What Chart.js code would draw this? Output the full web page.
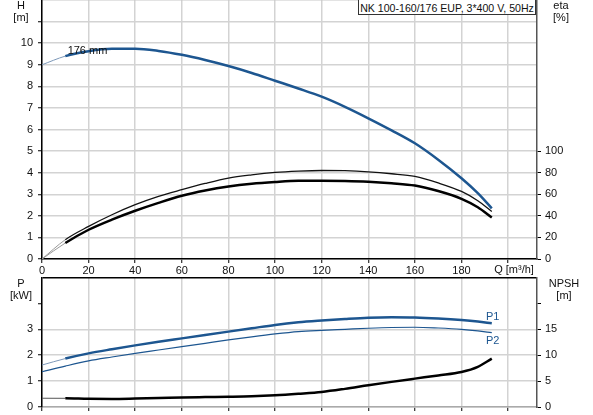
<!DOCTYPE html>
<html>
<head>
<meta charset="utf-8">
<script src="https://cdn.jsdelivr.net/npm/chart.js@4/dist/chart.umd.min.js"></script>
<style>
  html, body { margin: 0; padding: 0; background: #fff; }
  body { width: 593px; height: 415px; position: relative; overflow: hidden; font-family: "Liberation Sans", Arial, sans-serif; }
  canvas { position: absolute; left: 0; }
  #c1 { top: 0; }
  #c2 { top: 270px; }
  .lbl { position: absolute; font-size: 11px; color: #111; line-height: 12px; transform: translate(-50%, -50%); white-space: nowrap; }
  #title { position: absolute; left: 358px; top: -1px; width: 178px; height: 16px; border: 1px solid #333; background: #fff;
           font-size: 10.6px; line-height: 16px; text-align: center; color: #111; white-space: nowrap; box-sizing: border-box; }
</style>
</head>
<body>
<canvas id="c1" width="593" height="280"></canvas>
<canvas id="c2" width="593" height="145"></canvas>
<div class="lbl" style="left:21px;top:5px">H</div>
<div class="lbl" style="left:21px;top:17px">[m]</div>
<div class="lbl" style="left:561px;top:5px">eta</div>
<div class="lbl" style="left:561px;top:17px">[%]</div>
<div class="lbl" style="left:21px;top:283px">P</div>
<div class="lbl" style="left:21px;top:295px">[kW]</div>
<div class="lbl" style="left:564px;top:283px">NPSH</div>
<div class="lbl" style="left:564px;top:295px">[m]</div>
<div class="lbl" style="left:514px;top:269px">Q [m³/h]</div>
<div id="title">NK 100-160/176 EUP, 3*400 V, 50Hz</div>
<script>
// ---- data ----
const Q     = [0, 10, 20, 30, 40, 50, 60, 70, 80, 90, 100, 110, 120, 130, 140, 150, 160, 170, 180, 187, 193];
const H     = [9.0, 9.40, 9.63, 9.74, 9.74, 9.64, 9.46, 9.22, 8.94, 8.62, 8.26, 7.9, 7.52, 7.05, 6.52, 5.96, 5.36, 4.6, 3.74, 3.05, 2.35];
const ETA1  = [0, 17.9, 30.2, 41, 50.3, 58, 64.2, 70, 75, 78, 80.2, 81.4, 82, 81.8, 80.8, 79, 76.5, 70.5, 62.6, 54, 44];
const ETA2  = [0, 14.8, 27.1, 36.5, 44.7, 52, 58.6, 63.5, 67.2, 69.7, 71.3, 72.4, 72.5, 72.3, 71.6, 70.2, 68.1, 63, 55.8, 48, 38.5];
const P1    = [1.62, 1.87, 2.07, 2.23, 2.38, 2.52, 2.65, 2.78, 2.91, 3.04, 3.17, 3.27, 3.34, 3.40, 3.45, 3.47, 3.46, 3.42, 3.36, 3.30, 3.23];
const P2    = [1.36, 1.58, 1.78, 1.93, 2.07, 2.20, 2.33, 2.46, 2.59, 2.71, 2.82, 2.91, 2.96, 3.0, 3.04, 3.07, 3.08, 3.05, 3.0, 2.94, 2.87];
const NPSH  = [1.69, 1.68, 1.58, 1.55, 1.62, 1.72, 1.85, 1.92, 1.98, 2.07, 2.26, 2.55, 2.9, 3.5, 4.19, 4.85, 5.48, 6.1, 6.76, 7.75, 9.34];
const X_TICKS = [0, 20, 40, 60, 80, 100, 120, 140, 160, 180, 200];
const ETA_TICKS = [0, 20, 40, 60, 80, 100];
const NPSH_TICKS = [0, 5, 10, 15, 20];
const CURVE_LABEL = "176 mm";

const BLUE = '#1d5690';
const GRID = '#d3d3d3';
const GRID_W = 1.5;
const NONE = 'rgba(0,0,0,0)';
const FONT = { family: '"Liberation Sans", Arial, sans-serif', size: 11 };
const pts = (ys) => Q.map((q, i) => ({ x: q, y: ys[i] }));
const tv = c => (c.tick ? c.tick.value : null);

function fit(w, h) {
  return s => {
    if (w != null) s.width = w;
    if (h != null) s.height = h;
    s.paddingTop = 0; s.paddingBottom = 0; s.paddingLeft = 0; s.paddingRight = 0;
  };
}
function line(data, axis, color, thick, thin, thinColor) {
  return {
    data, yAxisID: axis, borderColor: color, borderWidth: thick, pointRadius: 0,
    cubicInterpolationMode: 'monotone', fill: false,
    segment: thin ? { borderWidth: c => c.p0DataIndex === 0 ? thin : thick,
                      borderColor: c => c.p0DataIndex === 0 ? thinColor : color } : undefined
  };
}
const xScale = (showLabels, h, borderColor) => ({
  type: 'linear', min: 0, max: 212.4,
  afterBuildTicks: s => { s.ticks = X_TICKS.map(v => ({ value: v })); },
  ticks: { display: showLabels, font: FONT, color: '#111', padding: 1, maxRotation: 0,
           callback: v => v === 200 ? '' : String(v) },
  grid: { color: GRID, lineWidth: GRID_W, tickLength: 4, tickColor: '#000', tickWidth: 1 },
  border: { color: borderColor, width: 1.5 },
  afterFit: fit(null, h)
});

const labelPlugin1 = {
  id: 'lbl1',
  afterDatasetsDraw(chart) {
    const { ctx, scales } = chart;
    ctx.save();
    ctx.font = '11px "Liberation Sans", Arial, sans-serif';
    ctx.fillStyle = '#111';
    ctx.textBaseline = 'middle';
    ctx.fillText(CURVE_LABEL, scales.x.getPixelForValue(11), scales.y.getPixelForValue(9.62));
    ctx.restore();
  }
};
const labelPlugin2 = {
  id: 'lbl2',
  afterDatasetsDraw(chart) {
    const { ctx, scales } = chart;
    ctx.save();
    ctx.font = '11px "Liberation Sans", Arial, sans-serif';
    ctx.fillStyle = BLUE;
    ctx.textBaseline = 'middle';
    ctx.fillText('P1', scales.x.getPixelForValue(190.5), scales.yP.getPixelForValue(3.49));
    ctx.fillText('P2', scales.x.getPixelForValue(190.5), scales.yP.getPixelForValue(2.56));
    ctx.restore();
  }
};

new Chart(document.getElementById('c1'), {
  type: 'line',
  data: { datasets: [
    line(pts(H), 'y', BLUE, 2.5, 1, '#7d98b8'),
    line(pts(ETA1), 'yEta', '#111', 1.3, 1, '#999'),
    line(pts(ETA2), 'yEta', '#000', 2.5, 1, '#999')
  ]},
  options: {
    responsive: false, animation: false, devicePixelRatio: 1,
    layout: { padding: 0 },
    plugins: { legend: { display: false }, tooltip: { enabled: false } },
    scales: {
      x: xScale(true, 21, '#000'),
      y: {
        position: 'left', min: 0, max: 12,
        ticks: { stepSize: 1, font: FONT, color: '#111', padding: 5, callback: v => v <= 10 ? String(v) : '' },
        grid: { color: c => tv(c) === 12 ? '#c8c8c8' : GRID, lineWidth: GRID_W, tickLength: 4,
                tickColor: c => tv(c) === 12 ? NONE : '#000', tickWidth: 1 },
        border: { color: '#000', width: 1.5 },
        afterFit: fit(42, null)
      },
      yEta: {
        position: 'right', min: 0, max: 240,
        afterBuildTicks: s => { s.ticks = ETA_TICKS.map(v => ({ value: v })); },
        ticks: { font: FONT, color: '#111', padding: 4 },
        grid: { drawOnChartArea: false, tickLength: 4, tickColor: '#000', tickWidth: 1 },
        border: { color: '#555', width: 1.5 },
        afterFit: fit(56, null)
      }
    }
  },
  plugins: [labelPlugin1]
});

new Chart(document.getElementById('c2'), {
  type: 'line',
  data: { datasets: [
    line(pts(P1), 'yP', BLUE, 2.5, 1, '#7d98b8'),
    line(pts(P2), 'yP', BLUE, 1.2, null, null),
    line(pts(NPSH), 'yN', '#000', 2.5, 1, '#555')
  ]},
  options: {
    responsive: false, animation: false, devicePixelRatio: 1,
    layout: { padding: { top: 7.5, left: 0, right: 0, bottom: 0 } },
    plugins: { legend: { display: false }, tooltip: { enabled: false } },
    scales: {
      x: xScale(false, 8, '#aaa'),
      yP: {
        position: 'left', min: 0, max: 5,
        ticks: { stepSize: 1, font: FONT, color: '#111', padding: 5, callback: v => v <= 3 ? String(v) : '' },
        grid: { color: c => tv(c) === 5 ? '#000' : (tv(c) === 4 ? NONE : GRID),
                lineWidth: GRID_W, tickLength: 4,
                tickColor: c => tv(c) === 5 ? NONE : '#000', tickWidth: 1 },
        border: { color: '#000', width: 1.5 },
        afterFit: fit(42, null)
      },
      yN: {
        position: 'right', min: 0, max: 25,
        afterBuildTicks: s => { s.ticks = NPSH_TICKS.map(v => ({ value: v })); },
        ticks: { font: FONT, color: '#111', padding: 4, callback: v => v <= 15 ? String(v) : '' },
        grid: { drawOnChartArea: false, tickLength: 4, tickColor: '#000', tickWidth: 1 },
        border: { color: '#555', width: 1.5 },
        afterFit: fit(56, null)
      }
    }
  },
  plugins: [labelPlugin2]
});
</script>
</body>
</html>
